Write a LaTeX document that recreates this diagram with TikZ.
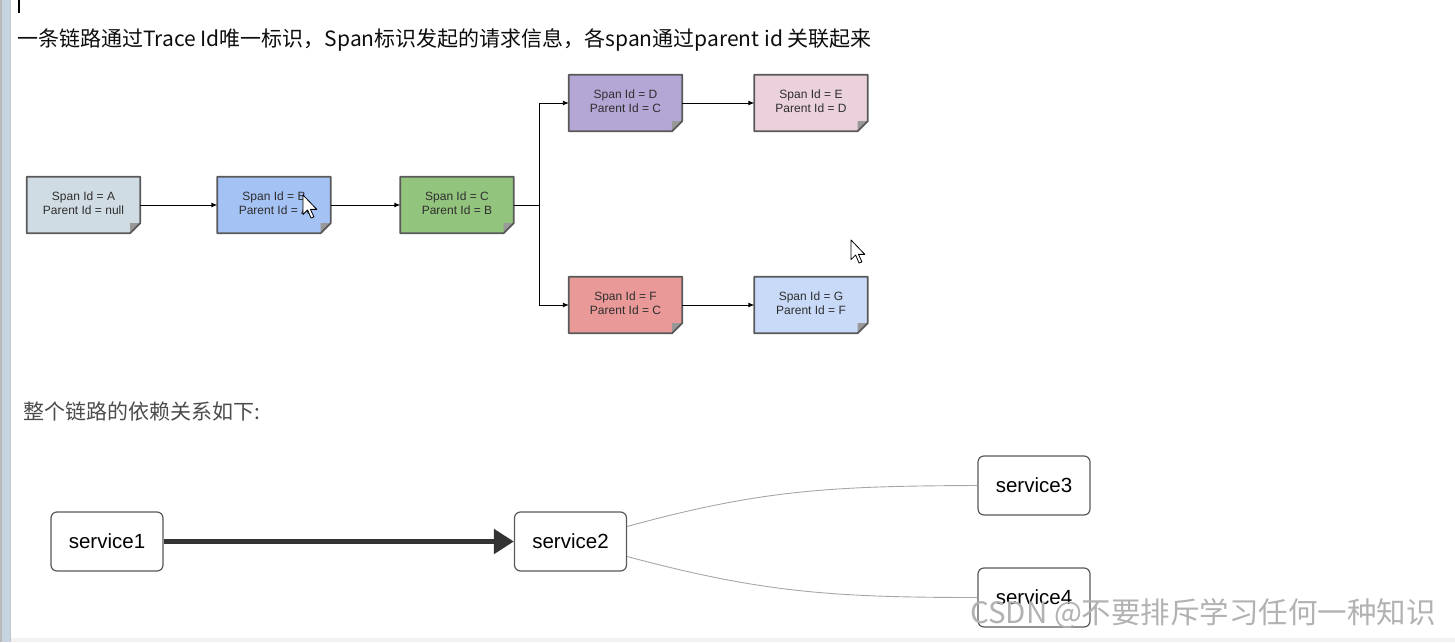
\documentclass[tikz,border=0pt]{standalone}
\usepackage{fontspec}
\setmainfont{Liberation Sans}
\newfontfamily\cjk{Noto Sans CJK SC}
\usetikzlibrary{arrows.meta,calc,backgrounds}
\definecolor{spanA}{HTML}{D0DCE3}
\definecolor{spanB}{HTML}{A4C2F4}
\definecolor{spanC}{HTML}{93C47D}
\definecolor{spanD}{HTML}{B4A7D6}
\definecolor{spanE}{HTML}{EAD1DC}
\definecolor{spanF}{HTML}{EA9999}
\definecolor{spanG}{HTML}{C9DAF8}
\definecolor{edge}{HTML}{595959}
\definecolor{strip}{HTML}{C5D4E0}
\newcommand\notebg[2]{%
  \fill[#2] (#1.north west) -- (#1.north east) -- ($(#1.south east)+(0,-10)$) -- ($(#1.south east)+(-10,0)$) -- (#1.south west) -- cycle;
  \fill[gray!80] ($(#1.south east)+(0,-10)$) -- ($(#1.south east)+(-10,0)$) -- ($(#1.south east)+(-10,-10)$) -- cycle;
  \draw[edge, line width=1.8pt, line join=round] (#1.north west) -- (#1.north east) -- ($(#1.south east)+(0,-10)$) -- ($(#1.south east)+(-10,0)$) -- (#1.south west) -- cycle;
}
\newcommand\pointer[2]{%
  \draw[black, fill=white, line width=0.8pt, line join=round, shift={(#1,#2)}, scale=1.15]
    (0,0) -- (0,17) -- (4,13) -- (7,20) -- (9.5,19) -- (6.5,12.5) -- (12,12.5) -- cycle;
}
\newcommand\spantext[2]{\raisebox{4.5pt}{\begin{tabular}{@{}c@{}}Span Id = #1\\Parent Id = #2\end{tabular}}}
\tikzset{
  spanbox/.style={minimum width=113pt, minimum height=56pt, inner sep=0pt, align=center,
    font=\fontsize{12}{14}\selectfont, text=black!82},
  spanarrow/.style={black, line width=0.9pt, -{Latex[length=6pt,width=5pt]}},
  svc/.style={draw=edge, line width=1.2pt, rounded corners=6pt, fill=white,
    minimum width=112pt, minimum height=59pt, inner sep=0pt, font=\fontsize{20.5}{24}\selectfont},
  thin link/.style={draw=gray!70, line width=0.9pt},
}
\begin{document}
\begin{tikzpicture}[x=1pt,y=-1pt]
\useasboundingbox (0,0) rectangle (1455,642);
% left strip and bottom line
\fill[strip] (0,0) rectangle (11,642);
\fill[gray!55] (0,0) rectangle (2,642);
\fill[gray!45] (10,0) rectangle (11,642);
\fill[gray!10] (11,638) rectangle (1455,642);
\draw[black, line width=1.4pt] (19,0) -- (19,13);
% title
\node[anchor=west, inner sep=0pt, font=\cjk\fontsize{21}{24}\selectfont, text=black!95] (title) at (17,40)
  {一条链路通过Trace Id唯一标识，Span标识发起的请求信息，各span通过parent id 关联起来};
% span nodes
\node[spanbox] (A) at (83.5,205) {\spantext{A}{null}};
\node[spanbox] (B) at (274,205) {\spantext{B}{A}};
\node[spanbox] (C) at (457,205) {\spantext{C}{B}};
\node[spanbox] (D) at (625.5,103) {\spantext{D}{C}};
\node[spanbox] (E) at (811,103) {\spantext{E}{D}};
\node[spanbox] (F) at (625.5,305) {\spantext{F}{C}};
\node[spanbox] (G) at (811,305) {\spantext{G}{F}};
\begin{scope}[on background layer]
  \notebg{A}{spanA}
  \notebg{B}{spanB}
  \notebg{C}{spanC}
  \notebg{D}{spanD}
  \notebg{E}{spanE}
  \notebg{F}{spanF}
  \notebg{G}{spanG}
\end{scope}
\draw[spanarrow] (A.east) -- (B.west);
\draw[spanarrow] (B.east) -- (C.west);
\coordinate (fork) at ($(C.east)+(26,0)$);
\draw[black, line width=0.9pt] (C.east) -- (fork);
\draw[spanarrow] (fork) |- (D.west);
\draw[spanarrow] (fork) |- (F.west);
\draw[spanarrow] (D.east) -- (E.west);
\draw[spanarrow] (F.east) -- (G.west);
% cursors
\pointer{303}{195}
\pointer{851}{240}
% second heading
\node[anchor=west, inner sep=0pt, font=\cjk\fontsize{21}{24}\selectfont, text=black!70] (sub) at (23,412)
  {整个链路的依赖关系如下:};
% services
\node[svc] (s1) at (107,541.5) {service1};
\node[svc] (s2) at (570.5,541.5) {service2};
\node[svc] (s3) at (1034,485.5) {service3};
\node[svc] (s4) at (1034,597.5) {service4};
\draw[black!80, line width=5pt, -{Triangle[length=20pt,width=24pt]}] (s1.east) -- (s2.west);
\draw[thin link] ($(s2.east)+(0,-15)$) .. controls (760,490) and (830,486) .. (s3.west);
\draw[thin link] ($(s2.east)+(0,15)$) .. controls (760,592) and (830,597.5) .. (s4.west);
% watermark
\node[anchor=west, inner sep=0pt, font=\cjk\fontsize{29.5}{33}\selectfont, text=gray!60] (wm) at (970,614)
  {CSDN @不要排斥学习任何一种知识};
\end{tikzpicture}
\end{document}
